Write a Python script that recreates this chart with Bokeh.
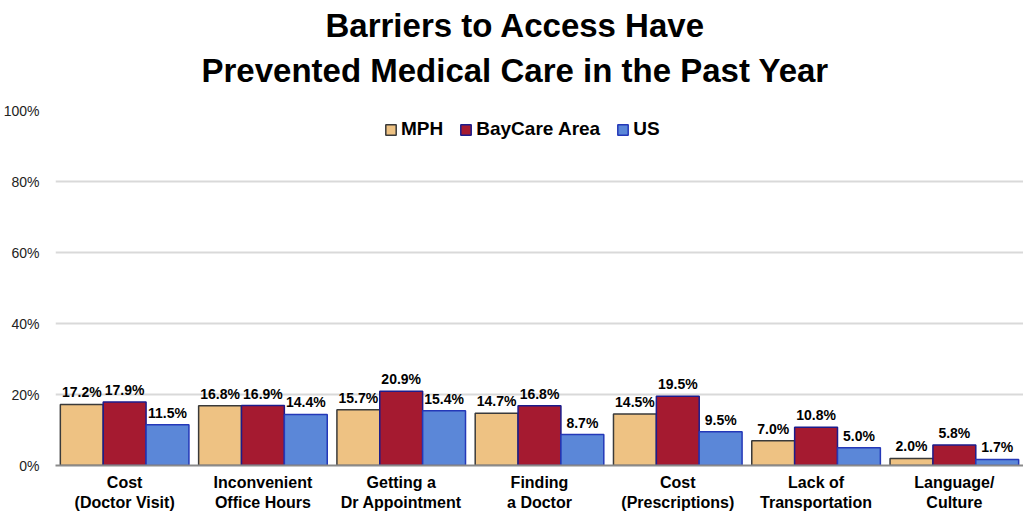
from bokeh.plotting import figure
from bokeh.models import (ColumnDataSource, FactorRange, Range1d, FixedTicker,
                          Legend, LegendItem, Title, PrintfTickFormatter)
from bokeh.transform import dodge
from bokeh.embed import file_html
from bokeh.resources import INLINE
from bokeh.core.properties import value

categories = ["Cost\n(Doctor Visit)", "Inconvenient\nOffice Hours", "Getting a\nDr Appointment",
              "Finding\na Doctor", "Cost\n(Prescriptions)", "Lack of\nTransportation", "Language/\nCulture"]
series_names = ["MPH", "BayCare Area", "US"]
mph = [17.2, 16.8, 15.7, 14.7, 14.5, 7.0, 2.0]
baycare = [17.9, 16.9, 20.9, 16.8, 19.5, 10.8, 5.8]
us = [11.5, 14.4, 15.4, 8.7, 9.5, 5.0, 1.7]
y_ticks = [0, 20, 40, 60, 80, 100]
title_lines = ["Barriers to Access Have", "Prevented Medical Care in the Past Year"]

SANS = "'Liberation Sans', Arial, sans-serif"

fills = ["#EEC283", "#A51A30", "#5B87D8"]
lines = ["#3a3a3a", "#1c1c8c", "#2438b8"]
offsets = [-0.31, 0.0, 0.31]
series_vals = [mph, baycare, us]

p = figure(width=1023, height=513, x_range=FactorRange(factors=categories),
           y_range=Range1d(0, 100), output_backend="svg", toolbar_location=None,
           min_border_left=55, min_border_right=0, min_border_bottom=40, min_border_top=0)
p.title = None
# panels above: added closest-to-plot first
p.add_layout(Title(text=" ", text_font_size="8px", standoff=9, text_color="white"), "above")
p.add_layout(Title(text=title_lines[1], align="left", offset=146, text_font=SANS,
                   text_font_size="33px", text_font_style="bold", text_color="#000000",
                   standoff=4), "above")
p.add_layout(Title(text=title_lines[0], align="left", offset=270, text_font=SANS,
                   text_font_size="33px", text_font_style="bold", text_color="#000000",
                   standoff=8), "above")

items = []
for name, vals, fc, lc, off in zip(series_names, series_vals, fills, lines, offsets):
    src = ColumnDataSource(dict(cat=categories, val=vals, lab=[f"{v:.1f}%" for v in vals]))
    r = p.vbar(x=dodge("cat", off, range=p.x_range), top="val", width=0.31, source=src,
               fill_color=fc, line_color=lc, line_width=1.5)
    p.text(x=dodge("cat", off, range=p.x_range), y="val", text="lab", source=src,
           text_align="center", text_baseline="bottom", y_offset=-4,
           text_font=value("Liberation Sans"), text_font_size="14px",
           text_font_style="bold", text_color="#000000")
    items.append(LegendItem(label=name, renderers=[r]))

legend = Legend(items=items, orientation="horizontal", location=(325, 321),
                label_text_font=SANS, label_text_font_size="19px",
                label_text_font_style="bold", label_text_color="#000000",
                glyph_width=13, glyph_height=13, spacing=16, label_standoff=4,
                background_fill_alpha=0, border_line_alpha=0, margin=0, padding=4)
p.add_layout(legend, "center")

p.yaxis.ticker = FixedTicker(ticks=y_ticks)
p.yaxis.formatter = PrintfTickFormatter(format="%d%%")
p.yaxis.axis_line_color = None
p.yaxis.major_tick_line_color = None
p.yaxis.minor_tick_line_color = None
p.yaxis.major_tick_out = 0
p.yaxis.minor_tick_out = 0
p.yaxis.major_label_text_font = SANS
p.yaxis.major_label_text_font_size = "14px"
p.yaxis.major_label_text_color = "#222222"
p.yaxis.major_label_standoff = 16

p.xaxis.axis_line_color = "#8a8a8a"
p.xaxis.axis_line_width = 2
p.xaxis.major_tick_line_color = None
p.xaxis.minor_tick_line_color = None
p.xaxis.major_tick_out = 0
p.xaxis.minor_tick_out = 0
p.xaxis.axis_label_standoff = 0
p.xaxis.major_label_text_font = SANS
p.xaxis.major_label_text_font_size = "16px"
p.xaxis.major_label_text_font_style = "bold"
p.xaxis.major_label_text_color = "#000000"
p.xaxis.major_label_text_line_height = 1.2
p.xaxis.major_label_standoff = 8

p.xgrid.grid_line_color = None
p.ygrid.grid_line_color = "#D9D9D9"
p.ygrid.grid_line_width = 2
p.outline_line_color = None
p.background_fill_color = "white"
p.border_fill_color = "white"

open("out.html", "w").write(file_html(p, INLINE))
